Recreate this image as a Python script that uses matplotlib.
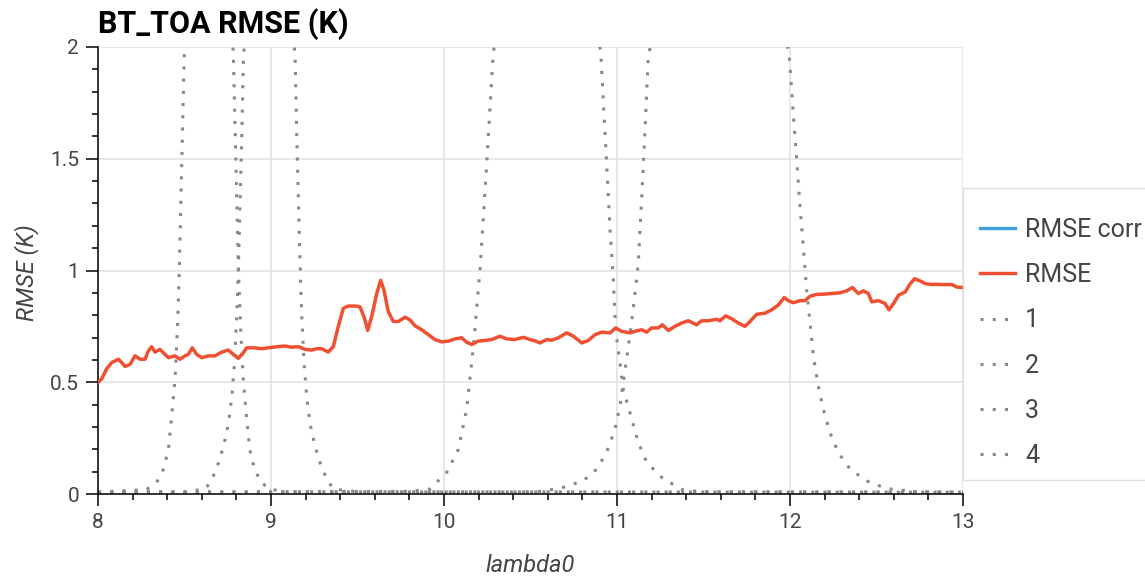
import matplotlib
matplotlib.use("Agg")
import matplotlib.pyplot as plt
from matplotlib.patches import Rectangle

plt.rcParams['font.family'] = ['Roboto', 'DejaVu Sans']

# RMSE along lambda0
rmse_x = [
    8.000, 8.021, 8.050, 8.079, 8.118, 8.137, 8.156, 8.185, 8.214, 8.243, 8.272, 8.291,
    8.310, 8.329, 8.358, 8.387, 8.407, 8.445, 8.474, 8.503, 8.522, 8.545, 8.570, 8.599,
    8.638, 8.676, 8.715, 8.753, 8.782, 8.811, 8.840, 8.859, 8.908, 8.946, 8.985, 9.033,
    9.081, 9.119, 9.158, 9.197, 9.235, 9.264, 9.293, 9.331, 9.360, 9.389, 9.418, 9.447,
    9.486, 9.514, 9.540, 9.559, 9.582, 9.611, 9.634, 9.653, 9.678, 9.707, 9.736, 9.775,
    9.803, 9.832, 9.871, 9.909, 9.948, 9.986, 10.025, 10.064, 10.102, 10.131, 10.160,
    10.198, 10.237, 10.276, 10.324, 10.362, 10.410, 10.458, 10.497, 10.526, 10.555,
    10.594, 10.622, 10.661, 10.709, 10.748, 10.796, 10.834, 10.873, 10.911, 10.960,
    10.992, 11.027, 11.075, 11.104, 11.143, 11.171, 11.200, 11.239, 11.262, 11.297,
    11.335, 11.374, 11.412, 11.460, 11.489, 11.528, 11.576, 11.595, 11.628, 11.663,
    11.701, 11.740, 11.769, 11.807, 11.855, 11.894, 11.933, 11.967, 11.990, 12.019,
    12.058, 12.087, 12.116, 12.154, 12.193, 12.241, 12.289, 12.328, 12.361, 12.395,
    12.424, 12.453, 12.472, 12.511, 12.549, 12.572, 12.599, 12.628, 12.666, 12.695,
    12.720, 12.753, 12.782, 12.811, 12.849, 12.888, 12.936, 12.965, 12.990, 13.000,
]
rmse_y = [
    0.500, 0.515, 0.560, 0.588, 0.603, 0.588, 0.571, 0.580, 0.618, 0.603, 0.603, 0.640,
    0.659, 0.635, 0.647, 0.625, 0.610, 0.618, 0.603, 0.618, 0.625, 0.654, 0.625, 0.610,
    0.618, 0.618, 0.635, 0.644, 0.625, 0.607, 0.632, 0.654, 0.654, 0.650, 0.654, 0.659,
    0.662, 0.657, 0.659, 0.647, 0.644, 0.650, 0.650, 0.635, 0.659, 0.750, 0.831, 0.841,
    0.841, 0.838, 0.787, 0.732, 0.794, 0.897, 0.956, 0.912, 0.816, 0.772, 0.772, 0.791,
    0.779, 0.753, 0.735, 0.713, 0.691, 0.681, 0.684, 0.694, 0.699, 0.679, 0.669,
    0.684, 0.687, 0.691, 0.706, 0.694, 0.691, 0.701, 0.691, 0.685, 0.676,
    0.691, 0.688, 0.699, 0.721, 0.706, 0.676, 0.687, 0.713, 0.724, 0.721,
    0.743, 0.728, 0.721, 0.728, 0.735, 0.724, 0.743, 0.743, 0.757, 0.732,
    0.750, 0.765, 0.775, 0.757, 0.775, 0.775, 0.782, 0.775, 0.797, 0.784,
    0.765, 0.750, 0.772, 0.804, 0.809, 0.824, 0.846, 0.879, 0.865, 0.856,
    0.865, 0.865, 0.885, 0.893, 0.894, 0.897, 0.900, 0.909, 0.924, 0.897,
    0.909, 0.897, 0.860, 0.865, 0.853, 0.824, 0.853, 0.890, 0.904, 0.941,
    0.963, 0.953, 0.941, 0.938, 0.938, 0.937, 0.937, 0.926, 0.924, 0.925,
]

# filter responses 1-4 (peaks run off the top of the plot)
band1_x = [8.0, 8.28, 8.339, 8.378, 8.407, 8.426, 8.445, 8.459, 8.470, 8.484, 8.499, 8.64,
           8.782, 8.797, 8.812, 8.825, 8.840, 8.858, 8.877, 8.905, 8.945, 9.0, 9.1, 13.0]
band1_y = [0.008, 0.02, 0.052, 0.11, 0.2, 0.349, 0.512, 0.735, 1.002, 1.478, 1.98, 3.0,
           1.98, 1.48, 1.0, 0.735, 0.51, 0.35, 0.2, 0.11, 0.05, 0.02, 0.01, 0.008]

band2_x = [8.0, 8.5, 8.62, 8.66, 8.697, 8.726, 8.755, 8.774, 8.789, 8.803, 8.812, 8.822,
           8.832, 8.841, 8.99, 9.139, 9.148, 9.158, 9.168, 9.177, 9.191, 9.206, 9.225,
           9.254, 9.283, 9.322, 9.36, 9.5, 13.0]
band2_y = [0.008, 0.01, 0.022, 0.067, 0.141, 0.215, 0.319, 0.438, 0.587, 0.809, 1.032, 1.329,
           1.626, 1.967, 3.0, 1.967, 1.626, 1.329, 1.032, 0.809, 0.587, 0.438, 0.319,
           0.215, 0.141, 0.067, 0.022, 0.01, 0.008]

band3_x = [8.0, 9.80, 9.919, 10.016, 10.083, 10.131, 10.17, 10.208, 10.247, 10.285, 10.6,
           10.906, 10.925, 10.94, 10.96, 10.979, 10.992, 11.017, 11.036, 11.075, 11.123,
           11.172, 11.268, 11.383, 11.5, 13.0]
band3_y = [0.008, 0.012, 0.022, 0.097, 0.2, 0.379, 0.661, 1.002, 1.478, 1.98, 3.0,
           1.98, 1.70, 1.478, 1.18, 0.958, 0.735, 0.587, 0.468, 0.364, 0.23,
           0.141, 0.067, 0.018, 0.01, 0.008]

band4_x = [8.0, 10.45, 10.574, 10.69, 10.805, 10.883, 10.94, 10.988, 11.017, 11.036, 11.066,
           11.091, 11.123, 11.143, 11.162, 11.181, 11.59, 11.994, 12.019, 12.039, 12.058,
           12.077, 12.096, 12.116, 12.135, 12.164, 12.193, 12.231, 12.279, 12.347, 12.443,
           12.559, 12.732, 13.0]
band4_y = [0.008, 0.009, 0.012, 0.03, 0.059, 0.111, 0.186, 0.29, 0.393, 0.497, 0.661,
           0.809, 1.032, 1.329, 1.626, 1.967, 3.0, 1.98, 1.70, 1.492, 1.284,
           1.106, 0.913, 0.765, 0.616, 0.482, 0.379, 0.275, 0.186, 0.111, 0.059,
           0.024, 0.01, 0.008]

bands = [("1", band1_x, band1_y), ("2", band2_x, band2_y),
         ("3", band3_x, band3_y), ("4", band4_x, band4_y)]

RED = '#f05032'
BLUE = '#3ca0dc'
GREY = '#888888'
TEXT = '#444444'
W, H = 1145, 577


def main():
    fig = plt.figure(figsize=(W / 100, H / 100), dpi=100)
    ax = fig.add_axes([98 / W, 1 - 494 / H, 865 / W, 447 / H])

    # RMSE corr sits under RMSE and is not visible, only its legend entry
    ax.plot([], [], color=BLUE, lw=2.4, label='RMSE corr')
    ax.plot(rmse_x, rmse_y, color=RED, lw=2.5, label='RMSE', zorder=3)
    for name, bx, by in bands:
        ax.plot(bx, by, color=GREY, lw=2.2, linestyle=(0, (1, 3)),
                dash_capstyle='butt', label=name, zorder=2)

    ax.set_xlim(8, 13)
    ax.set_ylim(0, 2)
    ax.set_xticks([8, 9, 10, 11, 12, 13])
    ax.set_xticks([8 + 0.2 * i for i in range(26)], minor=True)
    ax.set_yticks([0, 0.5, 1, 1.5, 2])
    ax.set_yticklabels(['0', '0.5', '1', '1.5', '2'])
    ax.set_yticks([0.1 * i for i in range(21)], minor=True)

    ax.grid(True, which='major', color='#e4e4e4', linewidth=1.2)
    ax.set_axisbelow(True)
    for side in ['top', 'right']:
        ax.spines[side].set_visible(False)
    for side in ['left', 'bottom']:
        ax.spines[side].set_linewidth(1.1)
        ax.spines[side].set_color('black')

    ax.tick_params(which='major', direction='out', length=8.5, width=1.1,
                   labelsize=15, labelcolor=TEXT, pad=5)
    ax.tick_params(which='minor', direction='out', length=4.5, width=1.1)

    ax.set_xlabel('lambda0', fontsize=17, style='italic', color=TEXT, va='center')
    ax.xaxis.set_label_coords(0.5, -0.159)
    ax.set_ylabel('RMSE (K)', fontsize=17, style='italic', color=TEXT, va='center')
    ax.yaxis.set_label_coords(-0.083, 0.495)

    ax.set_title('BT_TOA RMSE (K)', loc='left', fontsize=22, fontweight='bold', pad=10)

    # legend frame hangs off the right edge of the picture
    fig.patches.append(Rectangle((963 / W, 1 - 480 / H), 300 / W, 292 / H,
                                 transform=fig.transFigure, fill=False,
                                 edgecolor='#e0e0e0', linewidth=1.0))
    leg = ax.legend(loc='upper left', bbox_to_anchor=(980 / W, 1 - 218 / H),
                    bbox_transform=fig.transFigure, borderaxespad=0, borderpad=0,
                    fontsize=18, frameon=False, handlelength=1.4,
                    handletextpad=0.4, labelspacing=0.85)
    for t in leg.get_texts():
        t.set_color(TEXT)

    fig.savefig('out.png', dpi=100)
    plt.close(fig)


if __name__ == '__main__':
    main()
